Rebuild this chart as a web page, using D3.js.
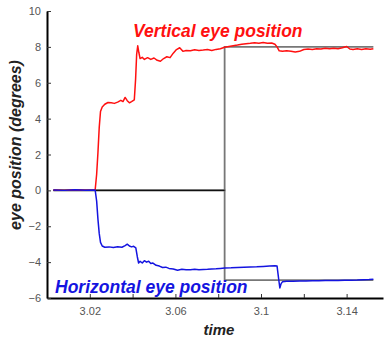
<!DOCTYPE html>
<html>
<head>
	<meta charset="utf-8">
	<script src="https://cdn.jsdelivr.net/npm/d3@7"></script>
	<style>
		html, body {
			padding: 0;
			margin: 0;
			background: white;
		}
	</style>
</head>
<body>
	<script>
		var width = 387;
		var height = 339;

		/* recorded data (time in s, eye position in degrees) */
		var vertTimes = [3.003, 3.008, 3.013, 3.018, 3.0225, 3.0232, 3.0238, 3.0244, 3.025, 3.0258,
			3.027, 3.0285, 3.030, 3.0315, 3.033, 3.0345, 3.0355, 3.0365, 3.0375, 3.0385,
			3.0395, 3.0408, 3.0414, 3.0419, 3.0424, 3.0429, 3.0435, 3.0445, 3.0455, 3.047,
			3.0485, 3.050, 3.0515, 3.053, 3.0545, 3.056, 3.0575, 3.059, 3.0605, 3.062,
			3.0635, 3.065, 3.067, 3.069, 3.071, 3.073, 3.075, 3.077, 3.079, 3.081,
			3.083, 3.085, 3.087, 3.089, 3.091, 3.093, 3.095, 3.097, 3.099, 3.101,
			3.103, 3.105, 3.1065, 3.1075, 3.1085, 3.110, 3.112, 3.114, 3.116, 3.118,
			3.120, 3.122, 3.124, 3.126, 3.128, 3.130, 3.132, 3.134, 3.136, 3.138,
			3.140, 3.1415, 3.143, 3.145, 3.147, 3.149, 3.151, 3.1525];
		var vertPos = [0.02, 0.0, 0.03, 0.01, 0.02, 0.9, 2.1, 3.5, 4.4, 4.65,
			4.8, 4.9, 4.88, 4.85, 4.92, 5.02, 4.95, 5.18, 5.0, 4.88,
			4.95, 5.05, 6.2, 7.6, 8.06, 7.7, 7.35, 7.42, 7.3, 7.4,
			7.3, 7.38, 7.25, 7.2, 7.35, 7.45, 7.4, 7.65, 7.85, 7.95,
			7.75, 7.8, 7.78, 7.84, 7.8, 7.82, 7.85, 7.8, 7.86, 7.9,
			7.98, 8.02, 8.06, 8.1, 8.15, 8.18, 8.2, 8.23, 8.2, 8.24,
			8.2, 8.22, 8.15, 8.0, 7.78, 7.75, 7.78, 7.76, 7.72, 7.75,
			7.85, 7.88, 7.85, 7.9, 7.88, 7.92, 7.9, 7.93, 7.9, 7.95,
			8.02, 7.88, 7.85, 7.9, 7.86, 7.9, 7.87, 7.9];

		var horizTimes = [3.003, 3.008, 3.013, 3.018, 3.0225, 3.0232, 3.0238, 3.0244, 3.025, 3.0258,
			3.027, 3.029, 3.031, 3.033, 3.035, 3.0365, 3.0375, 3.0385, 3.0395, 3.0405,
			3.0415, 3.0422, 3.0428, 3.0435, 3.0445, 3.0455, 3.0465, 3.0475, 3.0485, 3.0495,
			3.051, 3.0525, 3.054, 3.0555, 3.057, 3.059, 3.061, 3.063, 3.065, 3.067,
			3.069, 3.071, 3.073, 3.075, 3.077, 3.079, 3.081, 3.083, 3.086, 3.089,
			3.092, 3.095, 3.098, 3.101, 3.104, 3.1065, 3.1075, 3.1082, 3.1088, 3.1094,
			3.110, 3.112, 3.115, 3.118, 3.121, 3.124, 3.127, 3.130, 3.133, 3.136,
			3.139, 3.142, 3.145, 3.148, 3.1505, 3.1525];
		var horizPos = [0.02, 0.0, 0.03, 0.01, 0.02, -0.6, -1.6, -2.4, -2.9, -3.1,
			-3.17, -3.15, -3.18, -3.14, -3.17, -3.08, -3.0, -3.1, -3.15, -3.12,
			-3.2, -3.7, -4.05, -3.95, -4.05, -3.92, -4.0, -3.95, -4.08, -4.05,
			-4.18, -4.22, -4.3, -4.28, -4.35, -4.38, -4.45, -4.4, -4.43, -4.42,
			-4.4, -4.43, -4.41, -4.4, -4.38, -4.37, -4.35, -4.33, -4.32, -4.3,
			-4.28, -4.27, -4.26, -4.24, -4.22, -4.2, -4.22, -4.9, -5.44, -5.2,
			-5.1, -5.07, -5.06, -5.05, -5.05, -5.04, -5.04, -5.03, -5.03, -5.02,
			-5.01, -5.01, -5.0, -4.98, -4.97, -4.95];

		/* target steps */
		var targetTimes = [3.003, 3.083, 3.083, 3.1525];
		var vertTarget = [0, 0, 8, 8];
		var horizTarget = [0, 0, -5, -5];

		var xTicks = [3.02, 3.04, 3.06, 3.08, 3.1, 3.12, 3.14];
		var xTickLabels = [3.02, 3.06, 3.1, 3.14];
		var yTicks = [-6, -4, -2, 0, 2, 4, 6, 8, 10];

		var svg = d3.select('body').append('svg')
			.attr('width', width)
			.attr('height', height)
			.style('font-family', 'Liberation Sans, Arial, sans-serif');

		var x = d3.scaleLinear().domain([3.0, 3.157]).range([47, 383]);
		var y = d3.scaleLinear().domain([-6, 10]).range([298, 11]);

		var line = d3.line()
			.x(function(d) { return x(d[0]); })
			.y(function(d) { return y(d[1]); });

		var zip = function(ts, vs) {
			return ts.map(function(t, i) { return [t, vs[i]]; });
		};

		/* target lines */
		svg.append('path')
			.attr('d', line(zip(targetTimes, vertTarget)))
			.attr('fill', 'none')
			.attr('stroke', '#777')
			.attr('stroke-width', 1.8);
		svg.append('path')
			.attr('d', line(zip(targetTimes, horizTarget)))
			.attr('fill', 'none')
			.attr('stroke', '#777')
			.attr('stroke-width', 1.8);
		svg.append('path')
			.attr('d', line(zip(targetTimes.slice(0, 2), vertTarget.slice(0, 2))))
			.attr('fill', 'none')
			.attr('stroke', '#111')
			.attr('stroke-width', 1.2);

		/* eye traces */
		svg.append('path')
			.attr('d', line(zip(vertTimes, vertPos)))
			.attr('fill', 'none')
			.attr('stroke', '#ff1010')
			.attr('stroke-width', 1.5)
			.attr('stroke-linejoin', 'round');
		svg.append('path')
			.attr('d', line(zip(horizTimes, horizPos)))
			.attr('fill', 'none')
			.attr('stroke', '#1414e0')
			.attr('stroke-width', 1.5)
			.attr('stroke-linejoin', 'round');

		/* axes */
		var xAxis = svg.append('g')
			.attr('transform', 'translate(0,' + y(-6) + ')')
			.call(d3.axisBottom(x)
				.tickValues(xTicks)
				.tickSizeInner(-4)
				.tickSizeOuter(0)
				.tickPadding(9)
				.tickFormat(function(d) {
					return xTickLabels.some(function(v) { return Math.abs(v - d) < 1e-9; }) ? d3.format('~g')(d) : '';
				}));

		var yAxis = svg.append('g')
			.attr('transform', 'translate(' + x(3.0) + ',0)')
			.call(d3.axisLeft(y)
				.tickValues(yTicks)
				.tickSizeInner(-4)
				.tickSizeOuter(0)
				.tickPadding(6)
				.tickFormat(d3.format('d')));

		[xAxis, yAxis].forEach(function(a) {
			a.select('.domain').attr('stroke', '#000').attr('stroke-width', 2);
			a.selectAll('.tick line').attr('stroke', '#333');
			a.selectAll('.tick text')
				.attr('fill', '#555')
				.style('font-size', '11px')
				.style('font-family', 'Liberation Sans, Arial, sans-serif');
		});

		/* labels */
		svg.append('text')
			.attr('x', 133)
			.attr('y', 37)
			.attr('fill', '#ff1010')
			.style('font-size', '17.5px')
			.style('font-weight', 'bold')
			.style('font-style', 'italic')
			.text('Vertical eye position');

		svg.append('text')
			.attr('x', 55)
			.attr('y', 293)
			.attr('fill', '#1414e0')
			.style('font-size', '17.5px')
			.style('font-weight', 'bold')
			.style('font-style', 'italic')
			.text('Horizontal eye position');

		svg.append('text')
			.attr('x', 219)
			.attr('y', 335)
			.attr('text-anchor', 'middle')
			.attr('fill', '#222')
			.style('font-size', '15px')
			.style('font-weight', 'bold')
			.style('font-style', 'italic')
			.text('time');

		svg.append('text')
			.attr('transform', 'translate(21,145) rotate(-90)')
			.attr('text-anchor', 'middle')
			.attr('fill', '#222')
			.style('font-size', '16px')
			.style('font-weight', 'bold')
			.style('font-style', 'italic')
			.text('eye position (degrees)');
	</script>
</body>
</html>
